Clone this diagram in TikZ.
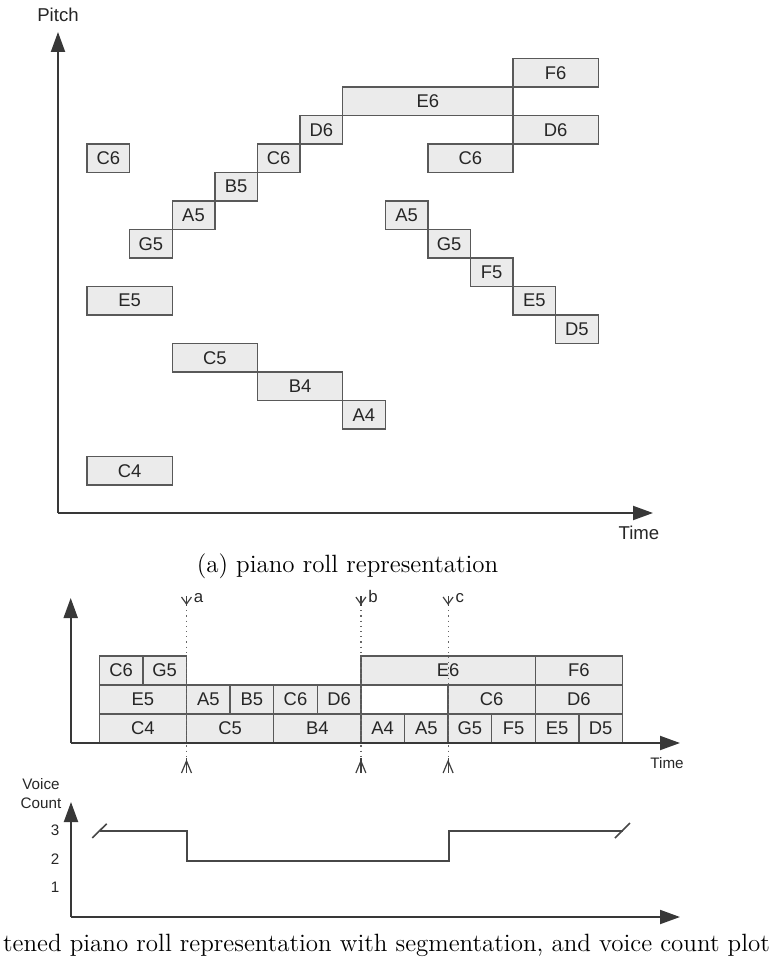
\documentclass[tikz,border=0pt]{standalone}
\usepackage{fontspec}
\newfontfamily\labfont{Liberation Sans}
\usetikzlibrary{arrows.meta}
\begin{document}
\begin{tikzpicture}[x=0.5pt,y=-0.5pt,
  note/.style={draw=black!65, fill=black!8, line width=0.7pt, inner sep=0pt, outer sep=0pt,
    anchor=north west, font=\labfont\fontsize{9.2}{10}\selectfont, text=black!85},
  axis/.style={draw=black!78, line width=1pt, -{Triangle[length=10pt,width=7pt]}},
  axlabel/.style={font=\labfont\fontsize{9.3}{11}\selectfont, text=black!85, inner sep=0pt},
  smalllabel/.style={font=\labfont\fontsize{7.6}{9.5}\selectfont, text=black!85, inner sep=0pt},
  seglabel/.style={font=\labfont\fontsize{8.4}{9.5}\selectfont, text=black!85, inner sep=0pt},
  marker/.style={draw=black!75, line width=0.6pt},
  segline/.style={draw=black!60, line width=0.6pt, dotted},
  plotline/.style={draw=black!72, line width=1pt},
  caption/.style={font=\fontsize{12.5}{14}\selectfont, inner sep=0pt}
]
\useasboundingbox (0,0) rectangle (774,963);

% ---------- (a) piano roll ----------
\coordinate (oA) at (58,513);
\coordinate (ytipA) at (58,32);
\coordinate (xtipA) at (653,513);
\foreach \tt/\dd/\rr/\lab [count=\i] in {
  0/1/3/C6, 0/2/8/E5, 0/2/13.965/C4, 1/1/6/G5, 2/1/5/A5, 3/1/4/B5, 4/1/3/C6, 5/1/2/D6,
  6/4/1/E6, 10/2/0/F6, 10/2/2/D6, 8/2/3/C6, 7/1/5/A5, 8/1/6/G5, 9/1/7/F5,
  10/1/8/E5, 11/1/9/D5, 2/2/10/C5, 4/2/11/B4, 6/1/12/A4}
{
  \node[note, minimum width=\dd*21.3pt, minimum height=14.25pt] (top\i)
    at (87+\tt*42.6, 58.5+\rr*28.5) {\lab};
}
\draw[axis] (oA) -- (ytipA);
\draw[axis] (oA) -- (xtipA);
\node[axlabel] (pitch) at (58,15) {Pitch};
\node[axlabel] (timeA) at (639,533) {Time};
\node[caption, anchor=base] (capA) at (347.5,572) {(a) piano roll representation};

% ---------- (b) flattened piano roll ----------
\coordinate (oB) at (70.7,743);
\coordinate (ytipB) at (70.7,598);
\coordinate (xtipB) at (680,743);
\foreach \tt/\dd/\rr/\lab [count=\i] in {
  0/1/0/C6, 1/1/0/G5, 6/4/0/E6, 10/2/0/F6,
  0/2/1/E5, 2/1/1/A5, 3/1/1/B5, 4/1/1/C6, 5/1/1/D6, 8/2/1/C6, 10/2/1/D6,
  0/2/2/C4, 2/2/2/C5, 4/2/2/B4, 6/1/2/A4, 7/1/2/A5, 8/1/2/G5, 9/1/2/F5, 10/1/2/E5, 11/1/2/D5}
{
  \node[note, minimum width=\dd*21.8pt, minimum height=14.5pt] (bot\i)
    at (99.3+\tt*43.6, 656+\rr*29) {\lab};
}
\draw[axis] (oB) -- (ytipB);
\draw[axis] (oB) -- (xtipB);
\node[smalllabel] (timeB) at (667,763) {Time};

\foreach \xx/\nm in {186.5/a, 360.9/b, 448.1/c}
{
  \coordinate (segtop\nm) at (\xx,605);
  \coordinate (segbot\nm) at (\xx,759);
  \draw[segline] (segtop\nm) -- (segbot\nm);
  \draw[marker] (\xx,596) -- (\xx,606);
  \draw[marker] (\xx-5,597) -- (\xx,604) -- (\xx+5,597);
  \draw[marker] (\xx,758) -- (\xx,773);
  \draw[marker] (\xx-5,773) -- (\xx,761) -- (\xx+5,773);
  \node[seglabel, anchor=base west] (seg\nm) at (\xx+7,602) {\nm};
}

% ---------- voice count plot ----------
\coordinate (oC) at (71,917);
\coordinate (ytipC) at (71,802);
\coordinate (xtipC) at (680,917);
\draw[axis] (oC) -- (ytipC);
\draw[axis] (oC) -- (xtipC);
\node[smalllabel, align=center] (vc) at (41,793.5) {Voice\\[0pt]Count};
\node[smalllabel] (v3) at (55,830) {3};
\node[smalllabel] (v2) at (55,859) {2};
\node[smalllabel] (v1) at (55,887.5) {1};
\draw[plotline] (99.5,830.5) -- (187,830.5) -- (187,860.5) -- (449,860.5) -- (449,830.5) -- (622.5,830.5);
\draw[plotline, line width=0.8pt] (92.3,838) -- (106.7,823.7);
\draw[plotline, line width=0.8pt] (615,838) -- (630,823);

\node[caption, anchor=base] (capB) at (386.5,951) {tened piano roll representation with segmentation, and voice count plot};
\end{tikzpicture}
\end{document}
